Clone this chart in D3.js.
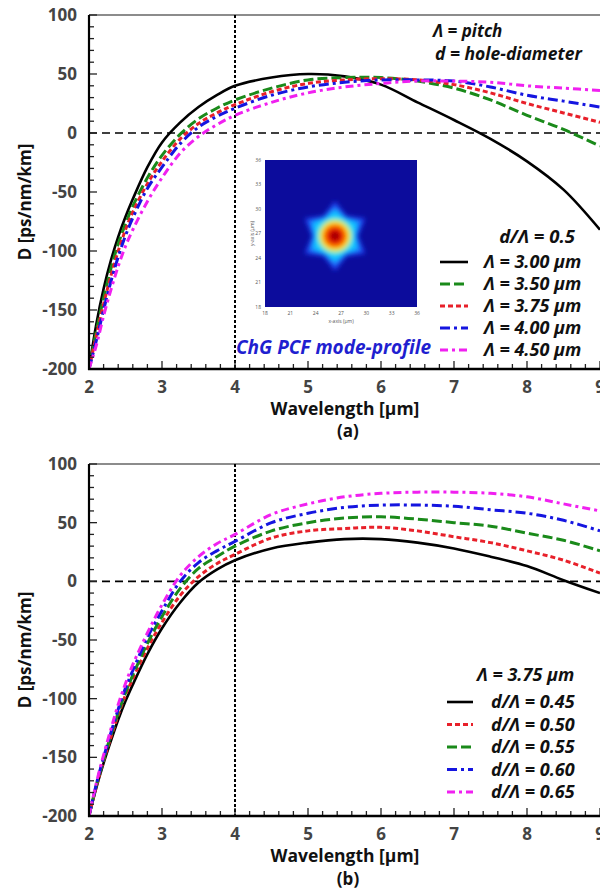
<!DOCTYPE html>
<html><head><meta charset="utf-8">
<script src="https://cdn.jsdelivr.net/npm/d3@7"></script>
<style>
body{margin:0;background:#fff}
svg{display:block}
text{font-family:"Open Sans","DejaVu Sans",sans-serif}
</style>
</head><body>
<script>
// ---------------- DATA ----------------
const wavelength = [2.0,2.1,2.2,2.3,2.4,2.5,2.6,2.8,3.0,3.25,3.5,3.75,4.0,4.5,5.0,5.5,6.0,6.5,7.0,7.5,8.0,8.5,9.0];

// Panel (a): d/Λ = 0.5, varying pitch
const pitchLabels = ["Λ = 3.00 µm","Λ = 3.50 µm","Λ = 3.75 µm","Λ = 4.00 µm","Λ = 4.50 µm"];
const pitch300 = [-200,-162,-132,-108,-88,-71,-56,-29,-8,9,22,32,40,47,50,48,41,26,11,-5,-24,-48,-82];
const pitch350 = [-200,-168,-140,-115,-94,-77,-62,-38,-19,-1,12,21,28,38,45,47,47,44,38,28,15,3,-11];
const pitch375 = [-200,-172,-145,-121,-100,-82,-67,-43,-24,-5,8,17,24,35,42,45,46,45,41,34,25,17,9];
const pitch400 = [-200,-176,-150,-126,-105,-87,-72,-47,-29,-9,5,14,21,32,39,43,45,45,44,39,32,27,22];
const pitch450 = [-200,-180,-155,-133,-113,-96,-82,-58,-38,-17,-3,7,15,26,34,39,42,44,44,43,40,38,36];

// Panel (b): Λ = 3.75 µm, varying d/Λ
const ratioLabels = ["d/Λ = 0.45","d/Λ = 0.50","d/Λ = 0.55","d/Λ = 0.60","d/Λ = 0.65"];
const ratio045 = [-200,-176,-155,-136,-118,-102,-88,-62,-40,-18,-1,10,18,28,33,36,36,33,28,21,13,1,-10];
const ratio050 = [-200,-175,-153,-133,-114,-97,-83,-57,-35,-12,4,15,23,37,43,45,46,43,38,33,26,18,7];
const ratio055 = [-200,-174,-152,-131,-112,-95,-80,-53,-30,-6,11,21,30,43,50,54,55,53,50,47,41,35,26];
const ratio060 = [-200,-173,-150,-129,-109,-91,-76,-48,-25,0,16,26,34,50,58,63,65,65,64,61,58,52,43];
const ratio065 = [-200,-172,-148,-126,-105,-87,-71,-44,-20,5,21,32,40,57,66,72,75,76,76,75,72,66,60];

const xTicks = [2,3,4,5,6,7,8,9];
const yTicks = [100,50,0,-50,-100,-150,-200];
const insetXTicks = ["18","21","24","27","30","33","36"];
const insetYTicks = ["36","33","30","27","24","21","18"];

// ---------------- STYLES ----------------
const pitchStyles = [
  {color:"#000000", dash:null, w:2.6},
  {color:"#1a8a1a", dash:"10,4", w:3},
  {color:"#e8202a", dash:"5,3", w:3},
  {color:"#1515e0", dash:"10,4,3,4", w:3},
  {color:"#f020f0", dash:"8,4,3,4", w:3}
];
const ratioStyles = [
  {color:"#000000", dash:null, w:2.6},
  {color:"#e8202a", dash:"5,3", w:3},
  {color:"#1a8a1a", dash:"10,4", w:3},
  {color:"#1515e0", dash:"10,4,3,4", w:3},
  {color:"#f020f0", dash:"8,4,3,4", w:3}
];

const W = 600, H = 892;
const svg = d3.select("body").append("svg").attr("width",W).attr("height",H);
const defs = svg.append("defs");
const x = d3.scaleLinear().domain([2,9]).range([89,600]);

function panel(top, bottom, series, styles, id){
  const y = d3.scaleLinear().domain([-200,100]).range([bottom, top]);
  const g = svg.append("g");
  defs.append("clipPath").attr("id","clip"+id).append("rect")
    .attr("x",89).attr("y",top).attr("width",600-89).attr("height",bottom-top);

  g.append("line").attr("x1",89).attr("x2",600).attr("y1",top).attr("y2",top)
    .attr("stroke","#666").attr("stroke-width",1.6);

  g.append("line").attr("x1",x(2)).attr("x2",600).attr("y1",y(0)).attr("y2",y(0))
    .attr("stroke","#000").attr("stroke-width",1.6).attr("stroke-dasharray","8,5");
  g.append("line").attr("x1",x(4)).attr("x2",x(4)).attr("y1",top).attr("y2",bottom)
    .attr("stroke","#000").attr("stroke-width",2).attr("stroke-dasharray","3,2");

  const line = d3.line().x((d,i)=>x(wavelength[i])).y(d=>y(d)).curve(d3.curveCatmullRom.alpha(0.5));
  const cg = g.append("g").attr("clip-path","url(#clip"+id+")");
  series.forEach((s,k)=>{
    cg.append("path").datum(s).attr("d",line).attr("fill","none")
      .attr("stroke",styles[k].color).attr("stroke-width",styles[k].w)
      .attr("stroke-dasharray",styles[k].dash);
  });

  const yMinor = d3.range(-200,101,10);
  g.selectAll(".ymin").data(yMinor).enter().append("line")
    .attr("x1",89).attr("x2",d=>d%50===0?97:94).attr("y1",d=>y(d)).attr("y2",d=>y(d))
    .attr("stroke","#222").attr("stroke-width",1.3);
  const xMinor = d3.range(20,91,2).map(v=>v/10);
  g.selectAll(".xmin").data(xMinor).enter().append("line")
    .attr("x1",d=>x(d)).attr("x2",d=>x(d)).attr("y1",bottom)
    .attr("y2",d=>Math.abs(d-Math.round(d))<1e-6?bottom-8:bottom-5)
    .attr("stroke","#222").attr("stroke-width",1.3);

  g.append("line").attr("x1",89).attr("x2",89).attr("y1",top).attr("y2",bottom+1)
    .attr("stroke","#000").attr("stroke-width",2.2);
  g.append("line").attr("x1",88).attr("x2",600).attr("y1",bottom).attr("y2",bottom)
    .attr("stroke","#000").attr("stroke-width",2.4);

  g.selectAll(".yl").data(yTicks).enter().append("text")
    .attr("x",77).attr("y",d=>y(d)).attr("dy","0.36em").attr("text-anchor","end")
    .attr("font-size",17).attr("font-weight",700).attr("fill","#444").text(d=>d);
  g.selectAll(".xl").data(xTicks).enter().append("text")
    .attr("x",d=>x(d)).attr("y",bottom+18).attr("dy","0.36em").attr("text-anchor","middle")
    .attr("font-size",17).attr("font-weight",700).attr("fill","#444").text(d=>d);

  g.append("text").attr("transform",`translate(25,${(top+bottom)/2+10}) rotate(-90)`)
    .attr("text-anchor","middle").attr("dy","0.36em").attr("font-size",17).attr("font-weight",700)
    .attr("fill","#111").text("D [ps/nm/km]");
  g.append("text").attr("x",345).attr("y",bottom+40).attr("dy","0.36em").attr("text-anchor","middle")
    .attr("font-size",17.5).attr("font-weight",700).attr("fill","#111").text("Wavelength [µm]");
  return {g,y};
}

panel(15,369,[pitch300,pitch350,pitch375,pitch400,pitch450],pitchStyles,"a");
panel(464,816,[ratio045,ratio050,ratio055,ratio060,ratio065],ratioStyles,"b");

svg.append("text").attr("x",348).attr("y",431).attr("dy","0.36em").attr("text-anchor","middle")
  .attr("font-size",17).attr("font-weight",700).attr("fill","#111").text("(a)");
svg.append("text").attr("x",348).attr("y",879).attr("dy","0.36em").attr("text-anchor","middle")
  .attr("font-size",17).attr("font-weight",700).attr("fill","#111").text("(b)");

function note(t,xx,yy,anchor,size,color){
  return svg.append("text").attr("x",xx).attr("y",yy).attr("dy","0.36em").attr("text-anchor",anchor||"start")
    .attr("font-size",size||18).attr("font-weight",700).attr("font-style","italic")
    .attr("fill",color||"#111").text(t);
}
note("Λ = pitch",433,31,"start",17);
note("d = hole-diameter",435,54,"start",17.5);
note("d/Λ = 0.5",537,236,"middle",18.5);
note("ChG PCF mode-profile",236,347,"start",19,"#1f1fd0");
note("Λ = 3.75 µm",477,675);

function legend(labels,styles,x0,x1,tx,y0,dy){
  labels.forEach((lab,k)=>{
    const yy = y0+k*dy;
    svg.append("line").attr("x1",x0).attr("x2",x1).attr("y1",yy).attr("y2",yy)
      .attr("stroke",styles[k].color).attr("stroke-width",styles[k].w)
      .attr("stroke-dasharray",styles[k].dash);
    note(lab,tx,yy);
  });
}
legend(pitchLabels,pitchStyles,440,468,484,262,22);
legend(ratioLabels,ratioStyles,447,473,491,702,22.5);

// ---------------- INSET (mode profile) ----------------
const ix0=265, iy0=160, iw=152, ih=147, cx=335, cy=236;
const blur = defs.append("filter").attr("id","blur").attr("x","-50%").attr("y","-50%").attr("width","200%").attr("height","200%");
blur.append("feGaussianBlur").attr("stdDeviation",2.4);
defs.append("clipPath").attr("id","insetClip").append("rect")
  .attr("x",ix0).attr("y",iy0).attr("width",iw).attr("height",ih);
const ig = svg.append("g");
ig.append("rect").attr("x",ix0).attr("y",iy0).attr("width",iw).attr("height",ih).attr("fill","#0c0c9c");
const mode = ig.append("g").attr("clip-path","url(#insetClip)").append("g").attr("filter","url(#blur)");
function star(r1,r2){
  const pts=[];
  for(let i=0;i<12;i++){
    const a = Math.PI/2 + i*Math.PI/6;
    const r = i%2===0?r1:r2;
    pts.push([cx+r*Math.cos(a), cy-r*Math.sin(a)]);
  }
  return "M"+pts.map(p=>p.join(",")).join("L")+"Z";
}
mode.append("path").attr("d",star(35,23)).attr("fill","#1f3ef0");
mode.append("path").attr("d",star(30,21)).attr("fill","#1a84ff");
mode.append("path").attr("d",star(25,20)).attr("fill","#10ccff");
mode.append("circle").attr("cx",cx).attr("cy",cy).attr("r",17).attr("fill","#80ff80");
mode.append("circle").attr("cx",cx).attr("cy",cy).attr("r",15).attr("fill","#ffe000");
mode.append("circle").attr("cx",cx).attr("cy",cy).attr("r",12).attr("fill","#ff6a00");
mode.append("circle").attr("cx",cx).attr("cy",cy).attr("r",8.5).attr("fill","#e00000");
mode.append("circle").attr("cx",cx).attr("cy",cy).attr("r",4).attr("fill","#900000");

const ixs = d3.scalePoint().domain(insetXTicks).range([ix0,ix0+iw]);
ig.selectAll(".ixt").data(insetXTicks).enter().append("text")
  .attr("x",d=>ixs(d)).attr("y",iy0+ih+8).attr("text-anchor","middle")
  .attr("font-size",5).attr("fill","#555").text(d=>d);
const iys = d3.scalePoint().domain(insetYTicks).range([iy0,iy0+ih]);
ig.selectAll(".iyt").data(insetYTicks).enter().append("text")
  .attr("x",ix0-4).attr("y",d=>iys(d)).attr("dy","0.35em").attr("text-anchor","end")
  .attr("font-size",5).attr("fill","#555").text(d=>d);
ig.append("text").attr("x",ix0+iw/2).attr("y",iy0+ih+16).attr("text-anchor","middle")
  .attr("font-size",5).attr("fill","#555").text("x-axis (µm)");
ig.append("text").attr("transform",`translate(${ix0-11},${iy0+ih/2}) rotate(-90)`)
  .attr("text-anchor","middle").attr("font-size",5).attr("fill","#555").text("y-axis (µm)");
</script>
</body></html>
